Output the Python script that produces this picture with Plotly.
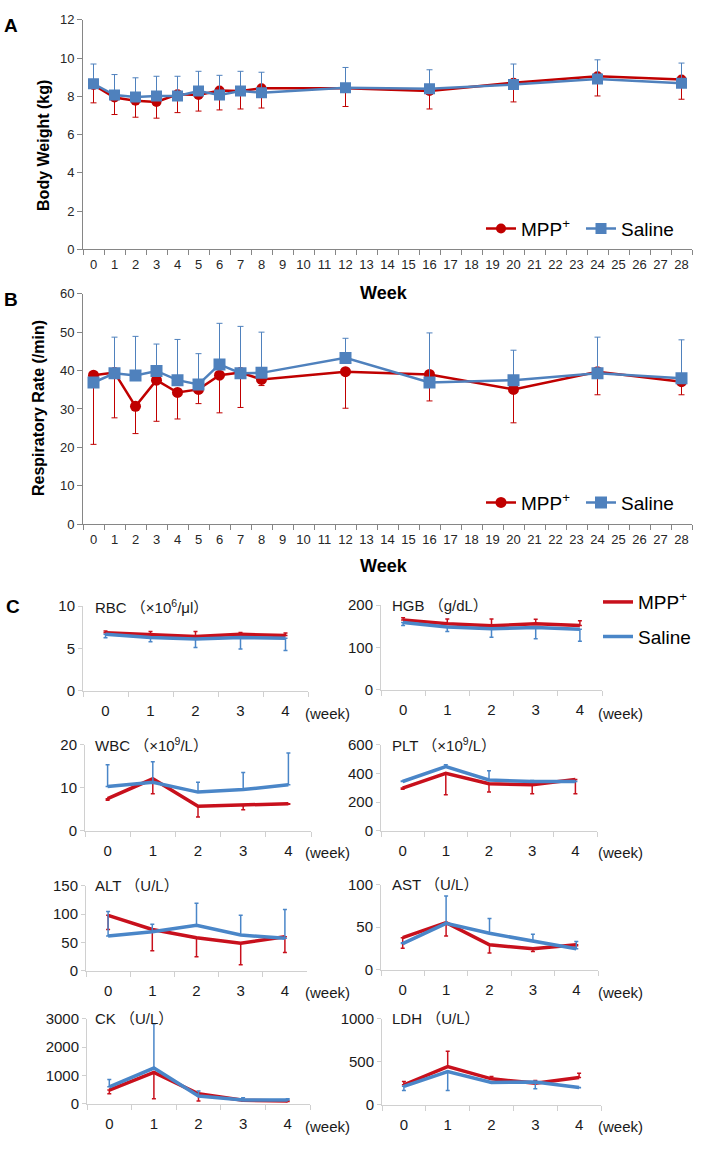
import plotly.graph_objects as go

W, H = 702, 1149
RED = "#C00000"
BLUE = "#4F81BD"
RED_C = "#C8101C"
BLUE_C = "#4A86C8"
GRAY = "#868686"
LGRAY = "#D0D0D0"
FONT = "Liberation Sans, Arial, Noto Sans CJK SC, sans-serif"
NARROW = "Liberation Sans Narrow, Arial Narrow, Liberation Sans, sans-serif"

# ---------------- data: panels A & B ----------------
weeks_ab = [0, 1, 2, 3, 4, 5, 6, 7, 8, 12, 16, 20, 24, 28]
week_axis_ab = list(range(29))

bw_mpp = [8.60, 7.94, 7.77, 7.71, 8.11, 8.07, 8.31, 8.28, 8.42, 8.42, 8.28, 8.71, 9.05, 8.88]
bw_mpp_err = [0.94, 0.89, 0.86, 0.85, 0.96, 0.84, 1.02, 0.94, 1.03, 0.95, 0.94, 1.00, 1.03, 1.03]
bw_sal = [8.66, 8.07, 7.97, 8.02, 8.02, 8.28, 8.07, 8.28, 8.19, 8.45, 8.40, 8.62, 8.91, 8.69]
bw_sal_err = [1.03, 1.07, 1.00, 1.03, 1.03, 1.03, 1.03, 1.03, 1.07, 1.06, 0.99, 1.07, 1.00, 1.05]

rr_mpp = [38.8, 39.5, 30.7, 37.5, 34.3, 35.1, 38.8, 39.5, 37.7, 39.7, 39.0, 35.1, 39.7, 37.1]
rr_mpp_err = [18.0, 11.8, 7.1, 10.7, 6.9, 3.7, 9.8, 9.1, 1.6, 9.5, 6.9, 8.7, 6.0, 3.4]
rr_sal = [36.9, 39.3, 38.7, 39.9, 37.5, 36.4, 41.6, 39.3, 39.4, 43.3, 36.9, 37.5, 39.3, 38.0]
rr_sal_err = [1.0, 9.4, 10.2, 7.0, 10.6, 8.0, 10.7, 12.2, 10.6, 5.1, 12.9, 7.8, 9.4, 10.0]

# ---------------- data: panel C ----------------
weeks_c = [0, 1, 2, 3, 4]

rbc_mpp = [6.86, 6.59, 6.40, 6.67, 6.51]
rbc_mpp_err = [0.2, 0.4, 0.6, 0.2, 0.3]
rbc_sal = [6.67, 6.28, 6.12, 6.28, 6.20]
rbc_sal_err = [0.4, 0.5, 1.0, 1.35, 1.45]

hgb_mpp = [165, 155.6, 151, 155.6, 151.7]
hgb_mpp_err = [5, 11.5, 16, 11, 11.3]
hgb_sal = [158.7, 148, 144, 147, 143]
hgb_sal_err = [7, 10.3, 20.3, 26.4, 28.6]

wbc_mpp = [7.46, 12.1, 5.7, 5.9, 6.3]
wbc_mpp_err = [0.36, 3.5, 2.5, 1.0, 0.15]
wbc_sal = [10.3, 11.3, 9.0, 9.6, 10.7]
wbc_sal_err = [5.1, 4.8, 2.3, 4.0, 7.4]

plt_mpp = [298, 402, 328, 321, 358]
plt_mpp_err = [8, 150, 58, 63, 100]
plt_sal = [344, 448, 355, 344, 344]
plt_sal_err = [4, 13, 65, 7, 2]

alt_mpp = [97.7, 72.7, 58.1, 48.3, 59.9]
alt_mpp_err = [25, 37.8, 33.7, 37.8, 27.9]
alt_sal = [61, 68.6, 80.2, 62.8, 57]
alt_sal_err = [43.7, 13.4, 39, 34.9, 51]

ast_mpp = [37.7, 55.3, 29.2, 24.5, 29.2]
ast_mpp_err = [12.4, 15.6, 9.7, 3.1, 1.2]
ast_sal = [30.7, 54.5, 42.8, 33.9, 24.5]
ast_sal_err = [1, 32.3, 17.5, 7.7, 8.5]

ck_mpp = [477, 1105, 349, 116, 93]
ck_mpp_err = [128, 931, 256, 20, 20]
ck_sal = [593, 1256, 267, 128, 128]
ck_sal_err = [256, 1570, 175, 81, 46]

ldh_mpp = [231, 442, 300, 250, 315]
ldh_mpp_err = [38, 181, 27, 31, 50]
ldh_sal = [212, 385, 258, 262, 200]
ldh_sal_err = [47, 220, 5, 77, 5]


def px(x):
    return x / W


def py(y):
    return 1 - y / H


fig = go.Figure()
annotations = []
layout = dict(
    width=W, height=H, margin=dict(l=0, r=0, t=0, b=0),
    paper_bgcolor="white", plot_bgcolor="white",
    font=dict(family=FONT, color="#262626"),
    showlegend=True,
)

# ---------------- panels A and B ----------------
xa = [str(w) for w in weeks_ab]
cats_ab = [str(w) for w in week_axis_ab]


def add_ab(idx, ympp, ympp_err, ysal, ysal_err, yrange, dtick, ydom, leg1, leg2, msize):
    xn = "x" if idx == 1 else f"x{idx}"
    yn = "y" if idx == 1 else f"y{idx}"
    n = len(ympp)
    fig.add_trace(go.Scatter(
        x=xa, y=ympp, mode="lines+markers", name="MPP<sup>+</sup>",
        line=dict(color=RED, width=2.5),
        marker=dict(symbol="circle", size=msize, color=RED),
        error_y=dict(type="data", symmetric=False, array=[0] * n, arrayminus=ympp_err,
                     color=RED, thickness=1, width=3),
        xaxis=xn, yaxis=yn, legend=leg1, showlegend=True))
    fig.add_trace(go.Scatter(
        x=xa, y=ysal, mode="lines+markers", name="Saline",
        line=dict(color=BLUE, width=2.5),
        marker=dict(symbol="square", size=msize + 1, color=BLUE),
        error_y=dict(type="data", symmetric=False, array=ysal_err, arrayminus=[0] * n,
                     color=BLUE, thickness=1, width=3),
        xaxis=xn, yaxis=yn, legend=leg2, showlegend=True))
    kx = "xaxis" if idx == 1 else f"xaxis{idx}"
    ky = "yaxis" if idx == 1 else f"yaxis{idx}"
    layout[kx] = dict(domain=[px(83), px(692)], anchor=yn, type="category",
                      categoryorder="array", categoryarray=cats_ab,
                      range=[-0.5, 28.5], tickson="boundaries", dtick=1,
                      ticks="outside", ticklen=5, tickcolor=GRAY, tickangle=0,
                      showline=True, linecolor=GRAY, linewidth=1,
                      showgrid=False, zeroline=False,
                      tickfont=dict(size=13, color="#262626", family=NARROW),
                      ticklabelstandoff=3)
    layout[ky] = dict(domain=ydom, anchor=xn, range=yrange, dtick=dtick,
                      ticks="outside", ticklen=5, tickcolor=GRAY,
                      showline=True, linecolor=GRAY, linewidth=1,
                      showgrid=False, zeroline=False,
                      tickfont=dict(size=13, color="#262626", family=NARROW))


add_ab(1, bw_mpp, bw_mpp_err, bw_sal, bw_sal_err, [0, 12], 2, [py(244), py(11)], "legend", "legend2", 10)
add_ab(2, rr_mpp, rr_mpp_err, rr_sal, rr_sal_err, [0, 60], 10, [py(523), py(289)], "legend3", "legend4", 11)

leg_font = dict(size=19, color="#000000", family=FONT)
for name, lx, ly in [("legend", 481, 223), ("legend2", 581, 223),
                     ("legend3", 481, 501), ("legend4", 581, 501)]:
    layout[name] = dict(x=px(lx), y=py(ly), xanchor="left", yanchor="middle",
                        bgcolor="rgba(0,0,0,0)", font=leg_font, borderwidth=0)

# axis titles & panel letters
annotations += [
    dict(text="<b>A</b>", x=px(11), y=py(17), font=dict(size=19, color="black")),
    dict(text="<b>B</b>", x=px(11), y=py(295), font=dict(size=19, color="black")),
    dict(text="<b>C</b>", x=px(13), y=py(606), font=dict(size=19, color="black")),
    dict(text="<b>Body Weight (kg)</b>", x=px(44), y=py(139), textangle=-90,
         font=dict(size=16, color="black")),
    dict(text="<b>Respiratory Rate (/min)</b>", x=px(38), y=py(405), textangle=-90,
         font=dict(size=16, color="black")),
    dict(text="<b>Week</b>", x=px(384), y=py(288), font=dict(size=18, color="black")),
    dict(text="<b>Week</b>", x=px(384), y=py(565), font=dict(size=18, color="black")),
]

# ---------------- panel C ----------------
xc = [str(w) for w in weeks_c]
panels = [
    # title, mpp, mpp_err, sal, sal_err, red_up, range, dtick, xdom, ytop, ybot, label_y, tx
    ("RBC （×10<sup>6</sup>/μl）", rbc_mpp, rbc_mpp_err, rbc_sal, rbc_sal_err, True, [0, 10], 5, (83, 308), 606, 692, 715, 93),
    ("HGB （g/dL）", hgb_mpp, hgb_mpp_err, hgb_sal, hgb_sal_err, True, [0, 200], 100, (381, 602), 605, 691, 715, 390),
    ("WBC （×10<sup>9</sup>/L）", wbc_mpp, wbc_mpp_err, wbc_sal, wbc_sal_err, False, [0, 20], 10, (85, 311), 747, 834, 856, 93),
    ("PLT （×10<sup>9</sup>/L）", plt_mpp, plt_mpp_err, plt_sal, plt_sal_err, False, [0, 600], 200, (381, 597), 747, 834, 856, 390),
    ("ALT （U/L）", alt_mpp, alt_mpp_err, alt_sal, alt_sal_err, False, [0, 150], 50, (86, 307), 890, 976, 998, 93),
    ("AST （U/L）", ast_mpp, ast_mpp_err, ast_sal, ast_sal_err, False, [0, 100], 50, (381, 598), 889, 975, 998, 390),
    ("CK （U/L）", ck_mpp, ck_mpp_err, ck_sal, ck_sal_err, False, [0, 3000], 1000, (87, 310), 1025, 1111, 1134, 93),
    ("LDH （U/L）", ldh_mpp, ldh_mpp_err, ldh_sal, ldh_sal_err, True, [0, 1000], 500, (382, 601), 1025, 1112, 1134, 390),
]

for i, (title, mpp, mpp_err, sal, sal_err, red_up, yr, dt, xd, ytop, ybot, laby, tx) in enumerate(panels):
    idx = i + 3
    xn, yn = f"x{idx}", f"y{idx}"
    n = len(mpp)
    zeros = [0] * n
    red_err = dict(type="data", symmetric=False,
                   array=mpp_err if red_up else zeros,
                   arrayminus=zeros if red_up else mpp_err,
                   color=RED_C, thickness=1.5, width=2)
    blue_err = dict(type="data", symmetric=False,
                    array=zeros if red_up else sal_err,
                    arrayminus=sal_err if red_up else zeros,
                    color=BLUE_C, thickness=1.5, width=2)
    first = (i == 0)
    fig.add_trace(go.Scatter(x=xc, y=mpp, mode="lines", name="MPP<sup>+</sup>",
                             line=dict(color=RED_C, width=3.5), error_y=red_err,
                             xaxis=xn, yaxis=yn, showlegend=first, legend="legend5"))
    fig.add_trace(go.Scatter(x=xc, y=sal, mode="lines", name="Saline",
                             line=dict(color=BLUE_C, width=3.5), error_y=blue_err,
                             xaxis=xn, yaxis=yn, showlegend=first, legend="legend6"))
    layout[f"xaxis{idx}"] = dict(domain=[px(xd[0]), px(xd[1])], anchor=yn, type="category",
                                 categoryorder="array", categoryarray=xc, range=[-0.5, 4.5],
                                 tickson="boundaries", ticks="outside", ticklen=5, tickangle=0,
                                 tickcolor=LGRAY, showline=True, linecolor=LGRAY, linewidth=1,
                                 showgrid=False, zeroline=False,
                                 tickfont=dict(size=15, color="#1a1a1a"), ticklabelstandoff=6)
    layout[f"yaxis{idx}"] = dict(domain=[py(ybot), py(ytop)], anchor=xn, range=yr, dtick=dt,
                                 ticks="outside", ticklen=4, tickcolor=LGRAY,
                                 showline=True, linecolor=LGRAY, linewidth=1,
                                 showgrid=False, zeroline=False,
                                 tickfont=dict(size=15, color="#1a1a1a"))
    annotations.append(dict(text=title, x=px(tx), y=py(ytop), xanchor="left",
                            font=dict(size=15, color="#1a1a1a")))
    wx = 327 if xd[0] < 200 else 620
    annotations.append(dict(text="(week)", x=px(wx), y=py(laby),
                            font=dict(size=15, color="#1a1a1a")))

for name, lx, ly in [("legend5", 598, 602), ("legend6", 598, 637)]:
    layout[name] = dict(x=px(lx), y=py(ly), xanchor="left", yanchor="middle",
                        bgcolor="rgba(0,0,0,0)", font=leg_font, borderwidth=0)

for a in annotations:
    a.setdefault("xref", "paper")
    a.setdefault("yref", "paper")
    a.setdefault("showarrow", False)
    a.setdefault("xanchor", "center")
    a.setdefault("yanchor", "middle")
layout["annotations"] = annotations

fig.update_layout(**layout)
fig.write_html(
    "out.html",
    config={"displayModeBar": False},
    post_script="document.body.style.margin='0';"
                "document.body.style.overflow='hidden';"
                "document.documentElement.style.overflow='hidden';",
)
